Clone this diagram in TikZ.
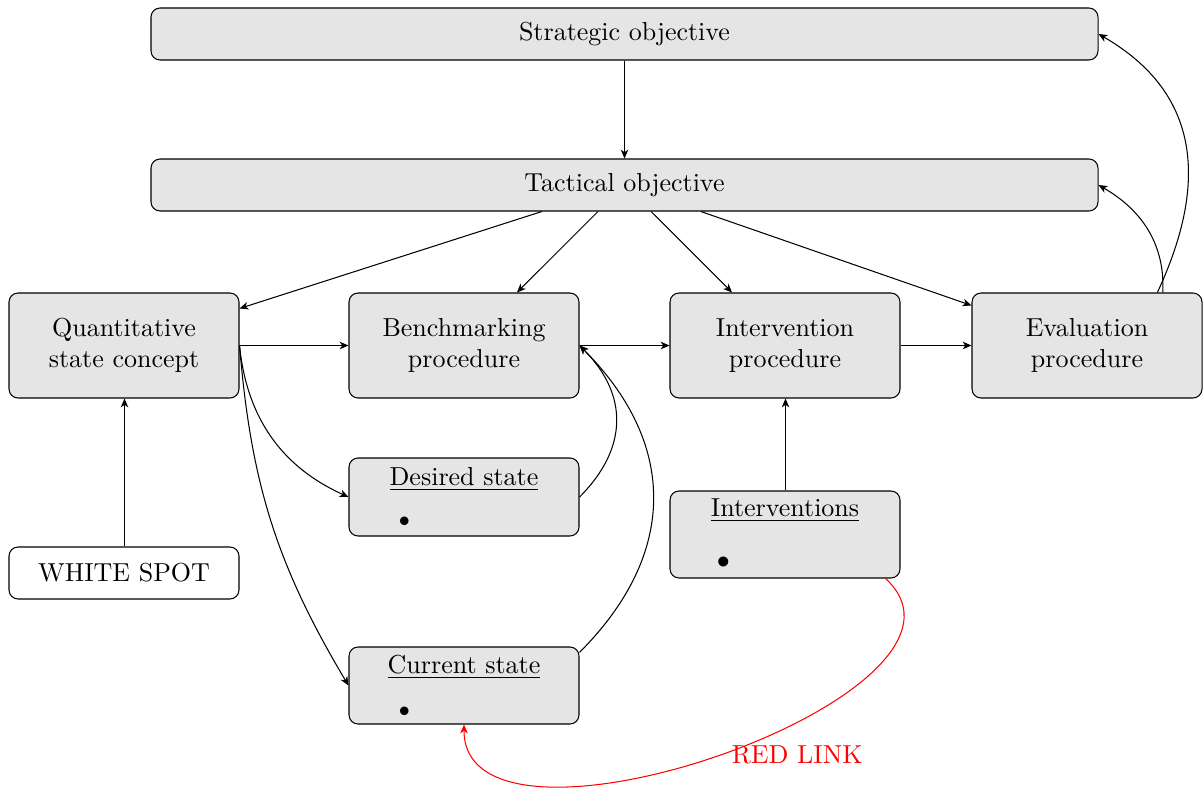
\documentclass[tikz,border=0pt]{standalone}
\usetikzlibrary{arrows.meta}
% one drawing unit
\def\pxu{0.3846pt}
\tikzset{
  x=\pxu, y=\pxu,
  >={Stealth[length=3.4pt,width=2.9pt,inset=1pt]},
  box/.style={draw, rounded corners=3.5pt, fill=gray!20, align=center, inner sep=0pt},
  wide/.style={box, minimum width=947*\pxu, minimum height=52*\pxu},
  proc/.style={box, minimum width=230*\pxu, minimum height=105*\pxu},
  listbox/.style={box, minimum width=230*\pxu},
  title/.style={inner sep=0pt, anchor=base},
  dot/.style={inner sep=0pt, anchor=center},
}
\begin{document}
\begin{tikzpicture}
\useasboundingbox (0,0) rectangle (1203,787);

% objectives
\node[wide] (strat) at (624.5,753) {Strategic objective};
\node[wide] (tac) at (624.5,602) {Tactical objective};

% procedures
\node[proc] (quant) at (124,441.5) {Quantitative\\state concept};
\node[proc] (bench) at (464,441.5) {Benchmarking\\procedure};
\node[proc] (interv) at (785,441.5) {Intervention\\procedure};
\node[proc] (eval) at (1087,441.5) {Evaluation\\procedure};

% lists
\node[listbox, minimum height=78*\pxu] (desired) at (464,290) {};
\node[listbox, minimum height=87*\pxu] (interventions) at (785,252.5) {};
\node[listbox, minimum height=77*\pxu] (current) at (464,101.5) {};
\node[title] (desiredtitle) at ([shift={(0,-28)}]desired.north) {\underline{Desired state}};
\node[title] (interventionstitle) at ([shift={(0,-26)}]interventions.north) {\underline{Interventions}};
\node[title] (currenttitle) at ([shift={(0,-27)}]current.north) {\underline{Current state}};
\node[dot] (desireddot) at ([shift={(56,-25)}]desired.west) {\footnotesize$\bullet$};
\node[dot] (interventionsdot) at ([shift={(54,-28.5)}]interventions.west) {$\bullet$};
\node[dot] (currentdot) at ([shift={(56,-26.5)}]current.west) {\footnotesize$\bullet$};

\node[box, fill=white, minimum width=230*\pxu, minimum height=52*\pxu] (white) at (124,214) {WHITE SPOT};

% connectors
\draw[->] (strat) -- (tac);
\foreach \t in {quant,bench,interv,eval} \draw[->] (tac) -- (\t);
\draw[->] (quant) -- (bench);
\draw[->] (bench) -- (interv);
\draw[->] (interv) -- (eval);
\draw[->] ([shift={(0.5,0)}]white.north) -- ([shift={(0.5,0)}]quant.south);
\draw[->] ([shift={(0.5,0)}]interventions.north) -- ([shift={(0.5,0)}]interv.south);
\draw[->] (quant.east) to[bend right] (desired.west);
\draw[->] (quant.east) to[bend right=13] (current.west);
\draw[->] (desired.east) to[out=45,in=-45,looseness=1.17] (bench.east);
\draw[->] (current.16) to[out=45,in=-45,looseness=1.16] (bench.east);
\draw[->] (eval.35) to[out=87,in=-30,looseness=1.0] (tac.east);
\draw[->] (eval.37) to[out=65,in=-30,looseness=1.15] (strat.east);
\draw[->,red] ([shift={(-15,0)}]interventions.south east)
  .. controls +(125,-115) and +(0,-158) .. (current.south)
  node[pos=0.5, anchor=west, shift={(1,-1)}, text=red] (redlabel) {RED LINK};
\end{tikzpicture}
\end{document}
